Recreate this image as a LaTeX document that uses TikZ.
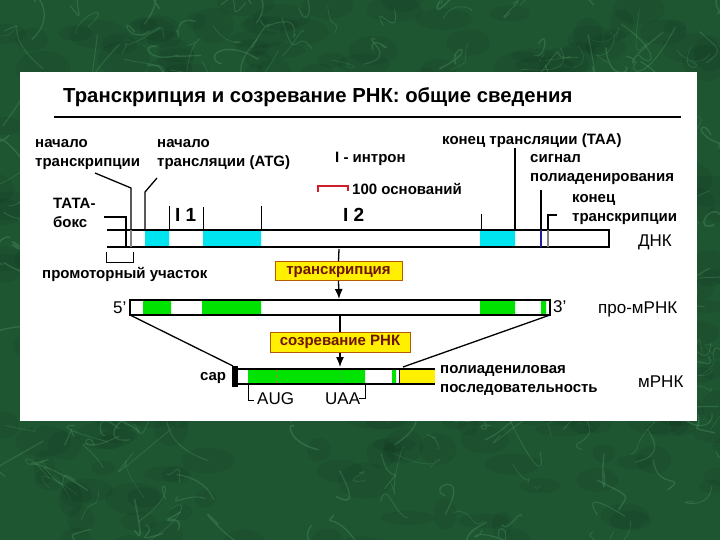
\documentclass[tikz,border=0pt]{standalone}
\usepackage{fontspec}
\setmainfont{Liberation Sans}
\usetikzlibrary{positioning, arrows.meta}

\definecolor{marble}{RGB}{30,86,50}
\definecolor{marblelt}{RGB}{90,165,110}
\definecolor{exoncyan}{RGB}{0,228,240}
\definecolor{exongreen}{RGB}{0,226,0}
\definecolor{boxyellow}{RGB}{255,240,0}
\definecolor{boxedge}{RGB}{180,90,0}
\definecolor{boxtext}{RGB}{110,20,0}
\definecolor{scalered}{RGB}{205,30,45}
\definecolor{polyblue}{RGB}{30,30,160}

\begin{document}
\begin{tikzpicture}[x=1pt,y=-1pt,>={Latex[length=10pt,width=8pt]},
  lbl/.style={font=\bfseries\fontsize{15}{19}\selectfont,align=left,inner sep=0pt,anchor=base west},
  big/.style={font=\fontsize{17}{19}\selectfont,inner sep=0pt,anchor=base west},
  stage/.style={draw=boxedge,fill=boxyellow,line width=1pt,text=boxtext,
    font=\bfseries\fontsize{15}{17}\selectfont,text height=10.5pt,text depth=4pt,inner sep=2pt},
  bar/.style={line width=1.6pt},
  tick/.style={line width=0.8pt},
  lead/.style={line width=1.3pt}]
\useasboundingbox (0,0) rectangle (720,540);

% marble background
\begin{scope}
\clip (0,0) rectangle (720,540);
\fill[marble] (0,0) rectangle (720,540);
\pgfmathsetseed{42}
\foreach \i in {1,...,340}{
  \pgfmathsetmacro\ax{rnd*720}
  \pgfmathsetmacro\ay{rnd*540}
  \pgfmathsetmacro\qa{\ax+(rnd-.5)*60}
  \pgfmathsetmacro\qb{\ay+(rnd-.5)*60}
  \pgfmathsetmacro\qc{\ax+(rnd-.5)*60}
  \pgfmathsetmacro\qd{\ay+(rnd-.5)*60}
  \pgfmathsetmacro\qe{\ax+(rnd-.5)*80}
  \pgfmathsetmacro\qf{\ay+(rnd-.5)*80}
  \pgfmathsetmacro\qw{.4+rnd*1.2}
  \fill[black,opacity=.06] (\qe,\qf) ellipse (10+rnd*20 and 6+rnd*12);
  \draw[marblelt,opacity=.3,line width=\qw pt] (\ax,\ay) .. controls (\qa,\qb) and (\qc,\qd) .. (\qe,\qf);
}
\end{scope}
\fill[white] (20,72) rectangle (697,421);

% title
\node (title) [anchor=base west,inner sep=0pt,font=\bfseries\fontsize{20.3}{23}\selectfont] at (63,103)
  {Транскрипция и созревание РНК: общие сведения};
\draw[bar] (54,117) -- (681,117);

% DNA
\fill[exoncyan] (145,230) rectangle (169,247) (203,230) rectangle (261,247) (480,230) rectangle (515,247);
\draw[bar] (107,230) -- (609,230) (107,247) -- (609,247);
\draw[line width=2.4pt] (609,229.2) -- (609,247.8);
\draw[gray,line width=1.2pt] (131,230) -- (131,247) (548,230) -- (548,247);
\draw[polyblue,line width=1.4pt] (541,230) -- (541,247);
\node[big] (dna) at (638,247) {ДНК};

\node[lbl] (tata) at (53,227) {ТАТА-\\бокс};
\draw[lead] (104,217) -- (126,217) -- (126,247);
\node[lbl] (tss) at (35,167) {начало\\транскрипции};
\draw[lead] (95,173) -- (131,188) -- (131,230);
\node[lbl] (atg) at (157,167) {начало\\трансляции (ATG)};
\draw[lead] (157,178) -- (145,192) -- (145,230);
\foreach \x/\y in {169/206,203/207,261/206,481/214}
  \draw[tick] (\x,\y) -- (\x,230);
\node[lbl,font=\bfseries\fontsize{19}{21}\selectfont] (i1) at (175,222) {I 1};
\node[lbl,font=\bfseries\fontsize{19}{21}\selectfont] (i2) at (343,222) {I 2};
\node[lbl] (intron) at (335,163) {I - интрон};
\draw[scalered,line width=1.5pt] (318,192) -- (318,186) -- (348,186) -- (348,191);
\node[lbl] (scale) at (352,195) {100 оснований};
\node[lbl] (taa) at (442,145) {конец трансляции (TAA)};
\draw[lead] (515,148) -- (515,230);
\node[lbl] (pas) at (530,182) {сигнал\\полиаденирования};
\draw[lead] (541,190) -- (541,230);
\node[lbl] (tes) at (572,222) {конец\\транскрипции};
\draw[lead] (557,215) -- (548,215) -- (548,230);
\draw[tick] (106,252) -- (106,262) -- (133,262) -- (133,252);
\node[lbl] (prom) at (42,278) {промоторный участок};

% transcription
\coordinate (dnaB) at (339,249);
\coordinate (preT) at (339,299);
\node[stage,minimum width=127pt] (tr) at (338.5,271) {транскрипция};
\draw[lead] (dnaB) -- (tr.north);
\draw[lead,->] (tr.south) -- (preT);

% pre-mRNA
\fill[exongreen] (143,300) rectangle (171,315) (202,300) rectangle (261,315) (480,300) rectangle (515,315) (541,300) rectangle (546,315);
\draw[bar] (130,300) rectangle (550,315);
\draw[line width=2.4pt] (130,299.2) -- (130,315.8) (550,299.2) -- (550,315.8);
\node[big] (five) at (113,313) {5'};
\node[big] (three) at (553,312) {3'};
\node[big] (pre) at (598,313) {про-мРНК};

% maturation
\coordinate (preB) at (340,316);
\coordinate (mT) at (340,367);
\node[stage,minimum width=140pt,minimum height=20pt] (mat) at (340,342) {созревание РНК};
\draw[lead] (preB) -- (mat.north);
\draw[lead,->] (mat.south) -- (mT);
\coordinate (capT) at (233,366);
\coordinate (tailT) at (403,367);
\draw[lead] (130,315) -- (capT);
\draw[lead] (550,315) -- (tailT);

% mRNA
\fill[exongreen] (248,369) rectangle (365,384) (392,369) rectangle (396,384);
\fill[boxyellow] (400,369) rectangle (435,384);
\draw[black!60!violet,line width=1pt] (399,369) -- (399,384);
\draw[scalered!70,dashed,line width=.8pt] (277,369) -- (277,384);
\draw[green!55!black!70,dashed,line width=.8pt] (340,369) -- (340,384);
\draw[bar] (236,369) -- (435,369) (236,384) -- (435,384);
\fill (232,366) rectangle (238,387);
\node[lbl] (cap) at (200,380) {cap};
\draw[tick] (248,384) -- (248,400) -- (254,400);
\draw[tick] (365,384) -- (365,398) -- (359,398);
\node[big] (aug) at (257,404) {AUG};
\node[big] (uaa) at (325,404) {UAA};
\node[lbl] (polya) at (440,392) {полиадениловая\\последовательность};
\node[big] (mrna) at (638,387) {мРНК};
\end{tikzpicture}
\end{document}
